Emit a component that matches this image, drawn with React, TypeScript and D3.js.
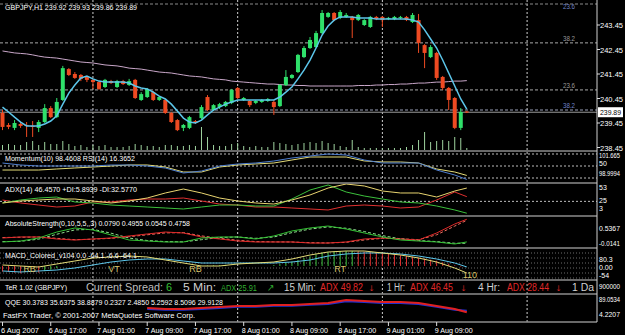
import React from 'react';
import * as d3 from 'd3';

// ---------- price data (GBPJPY H1) ----------
const open = [239.86,239.37,239.25,239.41,239.37,239.33,239.25,239.49,240.06,239.69,240.39,241.65,241.45,241.41,241.33,241.21,241.12,240.92,241.16,240.92,241.16,241.00,241.21,240.39,240.51,240.71,240.39,240.39,239.86,239.57,239.25,239.25,239.53,239.65,240.51,239.98,240.10,240.14,240.27,240.88,240.39,240.35,240.27,240.31,240.35,240.31,240.14,241.00,241.29,241.53,242.14,242.51,242.55,243.12,243.78,243.94,243.74,243.78,243.78,243.65,243.45,243.37,243.78,243.78,243.69,243.69,243.74,243.78,243.57,243.65,242.63,242.14,242.31,241.33,240.88,240.47,239.25,239.92];
const close = [239.29,239.29,239.45,239.33,239.33,239.29,239.49,240.06,239.69,240.31,241.69,241.41,241.29,241.25,241.21,241.12,240.84,241.21,241.08,241.16,241.04,241.16,240.47,240.63,240.84,240.39,240.51,239.86,239.49,239.16,239.37,239.69,239.45,240.10,239.98,240.18,240.22,240.31,240.80,240.47,240.47,240.18,240.35,240.39,240.43,240.10,241.00,241.33,241.41,242.23,242.51,242.84,243.12,243.94,243.94,243.65,243.98,243.86,243.65,243.86,243.65,243.78,243.69,243.65,243.74,243.78,243.78,243.65,243.86,242.72,242.31,242.55,241.29,240.88,240.39,239.25,239.90,239.89];
const high = [239.98,239.45,239.57,239.49,239.49,239.53,239.57,240.22,240.14,240.47,241.78,241.69,241.53,241.45,241.37,241.25,241.16,241.25,241.21,241.21,241.21,241.25,241.25,240.71,240.88,240.76,240.55,240.43,239.90,239.61,239.41,239.74,239.57,240.18,240.59,240.22,240.27,240.35,240.84,240.92,240.51,240.39,240.39,240.43,240.47,240.39,241.04,241.61,241.45,242.27,242.59,242.96,243.21,244.06,243.98,243.98,244.06,243.94,243.82,243.90,243.69,243.82,243.82,243.82,243.78,243.82,243.82,243.82,243.94,243.90,242.67,242.63,242.35,241.37,240.92,240.51,240.06,239.93];
const low = [239.16,239.20,239.16,239.25,238.88,238.88,239.08,239.45,239.65,239.65,240.35,241.37,241.25,241.16,241.12,240.84,240.80,240.88,241.04,240.88,241.00,240.96,240.43,240.35,240.47,240.35,240.35,239.82,239.45,239.12,239.12,239.20,239.41,239.61,239.94,239.94,240.02,240.10,240.22,240.43,240.35,240.10,240.22,240.27,240.31,239.78,240.10,240.96,241.25,241.49,242.10,242.47,242.51,243.08,243.74,243.61,243.69,243.74,242.92,243.61,243.41,243.33,243.65,243.37,243.65,243.65,243.69,243.61,243.53,242.31,241.69,242.10,241.21,240.80,239.98,239.20,239.16,239.86];
const volume = [500,600,500,500,800,900,500,800,600,600,900,600,400,500,300,500,400,500,300,300,300,400,600,500,400,400,300,500,500,400,400,500,400,2300,1300,500,400,400,600,700,400,300,400,300,300,800,700,600,500,600,700,800,700,900,700,600,400,300,1000,300,200,200,200,200,200,200,200,300,500,1000,1800,800,900,1000,900,1300,1200,200];
const maFast = [240.10,239.90,239.69,239.49,239.33,239.33,239.33,239.41,239.53,239.74,240.22,240.67,241.00,241.29,241.37,241.25,241.16,241.12,241.12,241.12,241.12,241.08,240.96,240.88,240.84,240.71,240.55,240.43,240.22,239.94,239.65,239.49,239.45,239.57,239.78,239.98,240.10,240.22,240.31,240.39,240.39,240.39,240.39,240.39,240.39,240.39,240.51,240.71,240.92,241.25,241.61,242.02,242.51,243.04,243.41,243.65,243.78,243.78,243.78,243.74,243.74,243.74,243.69,243.69,243.69,243.69,243.69,243.69,243.65,243.57,243.25,242.88,242.51,242.02,241.49,240.96,240.43,240.02];
const maSlow = [242.39,242.35,242.31,242.29,242.27,242.23,242.18,242.14,242.12,242.10,242.06,242.02,241.98,241.94,241.92,241.90,241.86,241.82,241.80,241.78,241.74,241.69,241.67,241.65,241.61,241.57,241.53,241.51,241.49,241.45,241.41,241.37,241.35,241.33,241.29,241.25,241.23,241.21,241.16,241.14,241.12,241.10,241.08,241.06,241.04,241.04,241.02,241.00,241.00,240.98,240.98,240.96,240.96,240.96,240.96,240.96,240.96,240.96,240.96,240.98,240.98,240.98,241.00,241.00,241.02,241.02,241.04,241.04,241.06,241.08,241.08,241.10,241.12,241.12,241.14,241.16,241.16,241.18];

const priceTicks = [243.45, 242.45, 241.45, 240.45, 239.45, 238.45];
const fibGray = [242.72, 240.80];
const fibGrayLabels = ['38.2', '23.6'];
const fibBlue = [239.98, 244.31];
const fibBlueLabels = ['38.2', '23.6'];
const lastPrice = 239.89;
const gridBars = [15, 39, 63, 87];
const dateBars = [0, 8, 16, 24, 32, 40, 48, 56, 64, 72];
const dateLabels = ['6 Aug 2007', '6 Aug 17:00', '7 Aug 01:00', '7 Aug 09:00', '7 Aug 17:00', '8 Aug 01:00', '8 Aug 09:00', '8 Aug 17:00', '9 Aug 01:00', '9 Aug 09:00'];

// ---------- indicators (sampled every 3 bars) ----------
const subIdx = [0,3,6,9,12,15,18,21,24,27,30,33,36,39,42,45,48,51,54,57,60,63,66,69,72,75,77];
const momentum = [99.31,99.31,99.31,99.47,99.63,99.78,99.94,100.10,100.10,99.78,99.00,99.00,99.78,100.10,100.26,100.41,100.88,101.35,101.35,101.35,100.73,100.57,100.57,100.41,99.47,99.00,98.46];
const rsi = [57.5,52.5,50,50,50,50,52.5,52.5,50,45,32.5,37.5,50,55,57.5,62.5,70,75,80,77.5,65,57.5,57.5,57.5,40,27.5,16.37];
const rsiLevels = [80, 50, 20];
const adx = [22.4,25.6,27.2,28.8,28.8,25.6,22.4,25.6,30.4,38.5,44.9,38.5,30.4,25.6,22.4,20.7,27.2,35.3,46.5,53,49.8,41.7,38.5,38.5,32.0,41.7,46.46];
const plusDI = [22.4,27.2,30.4,32.0,24.0,22.4,19.1,17.5,15.9,14.3,12.7,15.9,19.1,19.1,17.5,17.5,28.8,43.3,51.4,40.1,33.6,28.8,24.0,22.4,17.5,11.1,5.89];
const minusDI = [27.2,22.4,19.1,15.9,17.5,24.0,24.0,27.2,28.8,28.8,30.4,25.6,20.7,19.1,15.9,15.9,14.3,12.7,11.1,17.5,19.1,17.5,14.3,15.9,27.2,40.1,32.58];
const absBull = [0.078,0.096,0.151,0.261,0.335,0.298,0.206,0.114,0.096,0.078,0.078,0.151,0.170,0.170,0.133,0.188,0.280,0.335,0.371,0.316,0.243,0.170,0.114,0.096,0.078,0.041,0.079];
const absBear = [0.151,0.170,0.170,0.133,0.114,0.133,0.151,0.188,0.225,0.261,0.243,0.170,0.133,0.096,0.078,0.078,0.078,0.059,0.059,0.078,0.133,0.151,0.133,0.114,0.243,0.408,0.4955];
const absBullSig = [0.085,0.090,0.130,0.220,0.300,0.310,0.240,0.150,0.105,0.085,0.080,0.120,0.160,0.170,0.145,0.170,0.250,0.315,0.355,0.330,0.270,0.195,0.135,0.105,0.085,0.055,0.0545];
const absBearSig = [0.160,0.165,0.170,0.145,0.120,0.130,0.145,0.175,0.210,0.245,0.250,0.190,0.145,0.110,0.085,0.080,0.078,0.065,0.060,0.072,0.115,0.145,0.138,0.120,0.210,0.370,0.4758];
const macdMain = [5.1,-0.3,-5.7,10.5,26.6,42.7,48.1,53.4,48.1,32.0,15.8,-0.3,-0.3,10.5,15.8,21.2,37.3,58.8,74.9,80.3,80.3,69.6,58.8,42.7,21.2,-11.0,-37.9];
const macdSignal = [-27.1,-32.5,-27.1,-21.8,-11.0,5.1,21.2,32.0,37.3,37.3,26.6,15.8,15.8,15.8,15.8,15.8,21.2,32.0,53.4,64.2,69.6,69.6,64.2,53.4,37.3,15.8,-5.4];
const macdHist: (number | null)[] = [-30,-33,-36,-40,null,null,-36,-28,-20,-12,null,null,null,null,null,null,null,null,null,null,null,null,null,null,null,null,null,null,null,null,null,null,null,2,3,4,5,6,null,null,null,null,null,null,null,5,10,16,24,32,42,52,62,70,74,77,79,80,80.3,79,77,75,72,69,66,62,58,54,50,45,40,34,28,20,12,4,-4,null];
const macdMarks = ['RB', 'VT', 'RB', 'RT', '110'];
const macdMarkBars = [4.5, 18.5, 32, 56, 77.5];
const qqeRed: (number | null)[] = [null,null,null,null,null,null,null,null,46.6,42.8,42.8,46.6,50.5,54.3,54.3,58.2,58.2,62.1,65.9,77.5,73.6,69.8,69.8,65.9,54.3,42.8,30.38];
const qqeBlue: (number | null)[] = [null,null,null,null,null,null,null,null,43,40,40,43,47,51,51,55,55,59,62,73,70,66,66,62,51,40,35.64];

const terTexts = ['Current Spread:', '6', '5 Min:', 'ADX 25.91', '\u2197', '15 Min:', 'ADX 49.82', '\u2193', '1 Hr:', 'ADX 46.45', '\u2193', '4 Hr:', 'ADX 28.44', '\u2193', '1 Da'];
const terX = [86, 166, 183, 221, 267, 284, 320, 368, 387, 410, 460, 478, 507, 555, 572];
const terW = [77, 6, 33, 36, 7, 32, 43, 7, 18, 43, 7, 22, 42, 7, 22];
const terSize = [10, 10, 10, 9.5, 10, 10, 10, 10, 10, 10, 10, 10, 10, 10, 10];
const terColors = ['#bdbdbd', '#36c036', '#d0d0d0', '#30b030', '#30b030', '#d0d0d0', '#e02828', '#e02828', '#d0d0d0', '#e02828', '#e02828', '#d0d0d0', '#e02828', '#e02828', '#d0d0d0'];

const axisLabels = ['101.665', '50', '98.9994', '53', '25', '3', '0.5367', '-0.0141', '80.3', '0.00', '-54', '900000', '89.0534', '4.2207'];
const axisLabelY = [158, 166, 176, 190, 203, 211, 231, 246, 262, 270, 278, 289, 302, 317];

const FONT = 'Liberation Sans, Arial, sans-serif';

export default function App() {
  const R = 597;
  const x = d3.scaleLinear().domain([0, 87]).range([2.5, 527.1]);
  const yP = d3.scaleLinear().domain([238.45, 243.45]).range([147.5, 25]);
  const yVol = d3.scaleLinear().domain([0, 100]).range([0, 1]);
  const yMom = d3.scaleLinear().domain([98.9994, 101.665]).range([172, 155]);
  const yRsi = d3.scaleLinear().domain([20, 80]).range([178, 154]);
  const yAdx = d3.scaleLinear().domain([3, 53]).range([215, 184]);
  const yAbs = d3.scaleLinear().domain([-0.0141, 0.5367]).range([247, 217]);
  const yMacd = d3.scaleLinear().domain([-54, 80.3]).range([276, 251]);
  const yQqe = d3.scaleLinear().domain([4.2207, 89.0534]).range([319, 297]);

  const barLine = (arr: number[], ys: d3.ScaleLinear<number, number>) =>
    d3.line<number>().x((_, i) => x(i)).y(d => ys(d))(arr) || '';
  const subLine = (arr: (number | null)[], ys: d3.ScaleLinear<number, number>) =>
    d3.line<number | null>().defined(d => d != null).x((_, i) => x(subIdx[i])).y(d => ys(d as number))(arr) || '';

  const panelSeps = [151, 183, 216, 248, 280, 294, 322];
  const smallText = (t: string, px: number, py: number, w?: number, fill = '#fff', fs = 8) => (
    <text x={px} y={py} fontSize={fs} fill={fill} fontFamily={FONT} textLength={w} lengthAdjust={w ? 'spacingAndGlyphs' : undefined}>{t}</text>
  );

  return (
    <svg width={625} height={335} style={{ position: 'absolute', left: 0, top: 0 }}>
      <rect x={0} y={0} width={625} height={335} fill="#000" />
      {/* vertical grid */}
      {gridBars.map((b, i) => (
        <line key={'g' + i} x1={x(b)} x2={x(b)} y1={0} y2={322} stroke="#cfcfcf" strokeDasharray="2,2" />
      ))}
      {/* main panel */}
      <line x1={0} x2={R} y1={4} y2={4} stroke="#8a8a8a" strokeDasharray="3,2" />
      {fibGray.map((p, i) => (
        <g key={'fg' + i}>
          <line x1={0} x2={R} y1={yP(p)} y2={yP(p)} stroke="#a8a8a8" strokeDasharray="3,2" />
          {smallText(fibGrayLabels[i], 563, yP(p) - 2, 12, '#9a9a9a')}
        </g>
      ))}
      {fibBlue.map((p, i) => (
        <g key={'fb' + i}>
          {i === 0 && <line x1={0} x2={R} y1={yP(p)} y2={yP(p)} stroke="#9aa0b8" strokeDasharray="3,2" />}
          {smallText(fibBlueLabels[i], 563, i === 0 ? yP(p) - 2 : 9, 12, '#6f84c8')}
        </g>
      ))}
      <line x1={0} x2={R} y1={yP(lastPrice)} y2={yP(lastPrice)} stroke="#9c9c9c" />
      {/* volume */}
      {volume.map((v, i) => (
        <line key={'v' + i} x1={x(i)} x2={x(i)} y1={150} y2={150 - yVol(v)} stroke="#9fd39f" />
      ))}
      {/* slow ma */}
      <path d={barLine(maSlow, yP)} fill="none" stroke="#c9a7c9" strokeWidth={1} />
      {/* candles */}
      {open.map((o, i) => {
        const c = close[i];
        const up = c >= o;
        const col = up ? '#2fe06a' : '#ee4a22';
        const top = yP(Math.max(o, c));
        const bot = yP(Math.min(o, c));
        return (
          <g key={'c' + i}>
            <line x1={x(i)} x2={x(i)} y1={yP(high[i])} y2={yP(low[i])} stroke={col} />
            <rect x={x(i) - 2} y={top} width={4} height={Math.max(1, bot - top)} fill={col} />
          </g>
        );
      })}
      {/* fast ma */}
      <path d={barLine(maFast, yP)} fill="none" stroke="#5cc6ea" strokeWidth={1.5} />
      {smallText('GBPJPY,H1  239.92 239.93 239.86 239.89', 5, 10, 132)}

      {/* Momentum / RSI */}
      {rsiLevels.map((l, i) => (
        <line key={'rl' + i} x1={0} x2={R} y1={yRsi(l)} y2={yRsi(l)} stroke="#bdbdbd" strokeDasharray="2,2" />
      ))}
      <path d={subLine(momentum, yMom)} fill="none" stroke="#e4dc78" />
      <path d={subLine(rsi, yRsi)} fill="none" stroke="#4f7fd0" />
      {smallText('Momentum(10) 98.4608  RSI(14) 16.3652', 5, 161, 130)}

      {/* ADX */}
      <line x1={0} x2={R} y1={yAdx(25)} y2={yAdx(25)} stroke="#bdbdbd" strokeDasharray="2,2" />
      <path d={subLine(minusDI, yAdx)} fill="none" stroke="#e03030" />
      <path d={subLine(plusDI, yAdx)} fill="none" stroke="#3cc03c" />
      <path d={subLine(adx, yAdx)} fill="none" stroke="#e8d470" />
      {smallText('ADX(14) 46.4570  +DI:5.8939  -DI:32.5770', 5, 192, 132)}

      {/* Absolute strength */}
      <path d={subLine(absBearSig, yAbs)} fill="none" stroke="#f07060" strokeDasharray="3,2" />
      <path d={subLine(absBullSig, yAbs)} fill="none" stroke="#90e090" strokeDasharray="3,2" />
      <path d={subLine(absBear, yAbs)} fill="none" stroke="#e02a2a" />
      <path d={subLine(absBull, yAbs)} fill="none" stroke="#34c034" />
      {smallText('AbsoluteStrength(0,10,5,5,,3) 0.0790 0.4955 0.0545 0.4758', 5, 226, 185)}

      {/* MACD */}
      {[253, 258, 263, 268, 273, 278].map((yy, i) => (
        <line key={'md' + i} x1={0} x2={R} y1={yy} y2={yy} stroke="#6a6a6a" strokeDasharray="1,2" />
      ))}
      {macdHist.map((h, i) => {
        if (h == null) return null;
        const prev = i > 0 ? macdHist[i - 1] : null;
        const rising = prev == null ? h >= 0 : h >= prev;
        return <line key={'h' + i} x1={x(i)} x2={x(i)} y1={yMacd(0)} y2={yMacd(h)} stroke={rising ? '#3cc03c' : '#e03030'} />;
      })}
      <path d={subLine(macdSignal, yMacd)} fill="none" stroke="#5cc6ea" />
      <path d={subLine(macdMain, yMacd)} fill="none" stroke="#e4dc78" />
      {macdMarks.map((m, i) => (
        <text key={'mm' + i} x={x(macdMarkBars[i])} y={i === 4 ? 278 : 272} fontSize={9} fill="#d8c46a" fontFamily={FONT} textAnchor="middle">{m}</text>
      ))}
      {smallText('MACD_Colored_v104 0.0 -64.1 -6.6 -64.1', 5, 258, 132)}

      {/* TeR panel */}
      {smallText('TeR 1.02 (GBPJPY)', 5, 290, 62)}
      {terTexts.map((t, i) => (
        <text key={'t' + i} x={terX[i]} y={291} fontSize={terSize[i]} fill={terColors[i]} fontFamily={FONT} textLength={terW[i]} lengthAdjust="spacingAndGlyphs">{t}</text>
      ))}

      {/* QQE */}
      <path d={subLine(qqeBlue, yQqe)} fill="none" stroke="#2030d0" strokeWidth={2} />
      <path d={subLine(qqeRed, yQqe)} fill="none" stroke="#e02020" strokeWidth={2} />
      {smallText('QQE 30.3783 35.6375 38.8879 0.2327 2.4850 5.2592 8.5096 29.9128', 5, 305, 218)}
      {smallText('FastFX Trader, \u00a9 2001-2007 MetaQuotes Software Corp.', 3, 318, 192)}

      {/* separators */}
      {panelSeps.map((yy, i) => (
        <line key={'s' + i} x1={0} x2={R} y1={yy} y2={yy} stroke="#8c8c8c" strokeWidth={1.5} />
      ))}
      <line x1={R} x2={R} y1={0} y2={322} stroke="#d0d0d0" />

      {/* right axis */}
      {priceTicks.map((p, i) => (
        <g key={'pt' + i}>
          <line x1={R} x2={R + 3} y1={yP(p)} y2={yP(p)} stroke="#ddd" />
          {smallText(p.toFixed(2), 600, yP(p) + 3, 23)}
        </g>
      ))}
      <rect x={598} y={yP(lastPrice) - 5} width={25} height={10} fill="#fff" />
      <text x={600} y={yP(lastPrice) + 3} fontSize={8} fill="#000" fontFamily={FONT} textLength={21} lengthAdjust="spacingAndGlyphs">239.89</text>
      {axisLabels.map((t, i) => (
        <text key={'al' + i} x={599} y={axisLabelY[i]} fontSize={7} fill="#fff" fontFamily={FONT} textLength={t.length > 4 ? 21 : undefined} lengthAdjust={t.length > 4 ? 'spacingAndGlyphs' : undefined}>{t}</text>
      ))}

      {/* date axis */}
      {dateBars.map((b, i) => (
        <g key={'d' + i}>
          <line x1={x(b)} x2={x(b)} y1={322} y2={326} stroke="#ddd" />
          <text x={b === 0 ? 1 : x(b) - 2} y={333} fontSize={8} fill="#fff" fontFamily={FONT} textLength={38} lengthAdjust="spacingAndGlyphs">{dateLabels[i]}</text>
        </g>
      ))}
    </svg>
  );
}
